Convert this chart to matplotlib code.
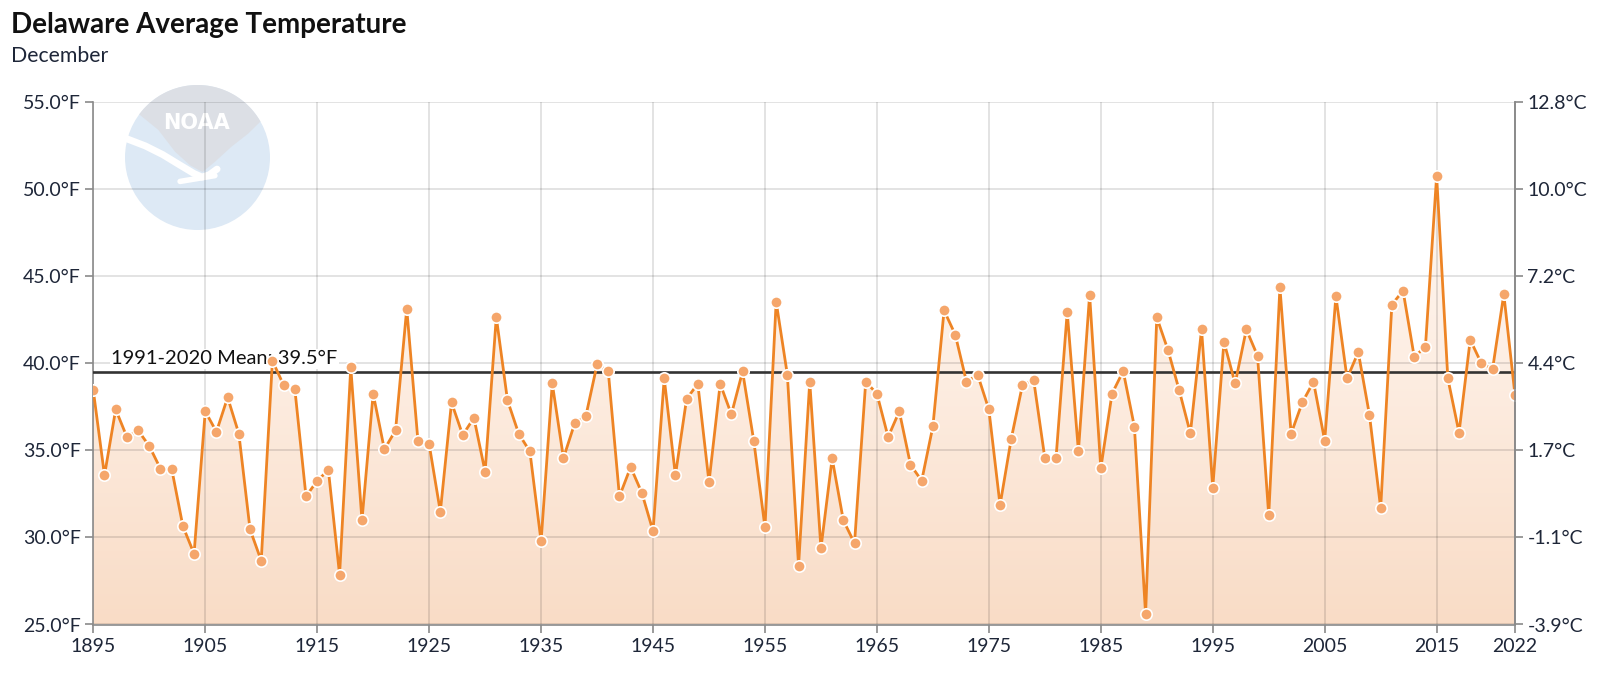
import numpy as np
import matplotlib
matplotlib.use("Agg")
import matplotlib.pyplot as plt
from matplotlib.colors import LinearSegmentedColormap
from matplotlib.patches import Circle, Polygon

years = list(range(1895, 2023))
temps_f = [
    38.43, 33.56, 37.34, 35.76, 36.14, 35.24, 33.94, 33.94, 30.65, 29.06,  # 1895-1904
    37.23, 36.06, 38.03, 35.95, 30.46, 28.66, 40.13, 38.74, 38.53, 32.35,  # 1905-1914
    33.25, 33.86, 27.86, 39.75, 30.98, 38.24, 35.05, 36.14, 43.12, 35.54,  # 1915-1924
    35.35, 31.47, 37.74, 35.87, 36.86, 33.77, 42.64, 37.86, 35.95, 34.93,  # 1925-1934
    29.77, 38.83, 34.55, 36.54, 36.96, 39.92, 39.54, 32.35, 34.03, 32.56,  # 1935-1944
    30.36, 39.12, 33.56, 37.95, 38.81, 33.17, 38.81, 37.06, 39.52, 35.54,  # 1945-1954
    30.57, 43.52, 39.33, 28.37, 38.93, 29.37, 34.53, 30.98, 29.66, 38.93,  # 1955-1964
    38.24, 35.76, 37.23, 34.17, 33.25, 36.37, 43.02, 41.63, 38.93, 39.33,  # 1965-1974
    37.34, 31.85, 35.66, 38.74, 39.04, 34.55, 34.55, 42.93, 34.95, 43.92,  # 1975-1984
    33.96, 38.24, 39.54, 36.35, 25.59, 42.62, 40.75, 38.45, 35.97, 41.93,  # 1985-1994
    32.85, 41.22, 38.83, 41.93, 40.42, 31.26, 44.34, 35.95, 37.74, 38.93,  # 1995-2004
    35.55, 43.84, 39.12, 40.63, 37.02, 31.67, 43.36, 44.15, 40.35, 40.94,  # 2005-2014
    50.75, 39.12, 36.01, 41.34, 39.98, 39.67, 43.95, 38.16,                # 2015-2022
]
mean_value = 39.5
mean_label = "1991-2020 Mean: 39.5°F"
title = "Delaware Average Temperature"
subtitle = "December"
yticks_f = [25, 30, 35, 40, 45, 50, 55]
xticks = [1895, 1905, 1915, 1925, 1935, 1945, 1955, 1965, 1975, 1985, 1995, 2005, 2015, 2022]

plt.rcParams['font.family'] = ['Lato', 'DejaVu Sans']
W, H = 1600, 693
fig = plt.figure(figsize=(W / 100, H / 100), dpi=100)
fig.patch.set_facecolor('white')

# axes placement (pixels)
L, R, T, B = 93.3, 1515, 101.7, 624.5
ax = fig.add_axes([L / W, 1 - B / H, (R - L) / W, (B - T) / H])
ax.set_zorder(2)
ax.patch.set_visible(False)

# NOAA watermark logo
cx, cy, rad = 197.5, 157.5, 72.5
lax = fig.add_axes([(cx - rad) / W, 1 - (cy + rad) / H, 2 * rad / W, 2 * rad / H])
lax.set_zorder(0)
lax.set_xlim(-1, 1); lax.set_ylim(-1, 1); lax.axis('off')
lax.add_patch(Circle((0, 0), 1, color='#dde9f5', lw=0))
ang = np.linspace(np.radians(29.7), np.radians(143.5), 60)
cap = [(np.cos(a), np.sin(a)) for a in ang]
left_side = [(-0.54, 0.38), (-0.31, 0.08), (-0.10, -0.11), (0.07, -0.20)]
right_side = [(0.24, -0.06), (0.47, 0.15), (0.70, 0.33)]
lax.add_patch(Polygon(cap + left_side + right_side, closed=True, color='#dcdfe5', lw=0))
wing = np.array([(-0.98, 0.26), (-0.72, 0.16), (-0.48, 0.04), (-0.25, -0.10),
                 (-0.05, -0.22), (0.06, -0.27), (0.16, -0.24), (0.27, -0.16)])
lax.plot(wing[:, 0], wing[:, 1], color='white', lw=5, solid_capstyle='round')
lax.plot([-0.24, 0.24], [-0.33, -0.25], color='white', lw=4, solid_capstyle='round')
lax.text(-0.02, 0.47, 'NOAA', color='white', fontsize=15, fontweight='heavy',
         ha='center', va='center', family=['DejaVu Sans'])

# gradient fill under the line
ax.set_xlim(1895, 2022)
ax.set_ylim(25, 55)
poly = ax.fill_between(years, temps_f, 25, color='none', lw=0)
cmap = LinearSegmentedColormap.from_list('peach', ['#f9dcc6', '#fdeee3', '#fff9f4'])
grad = np.linspace(0, 1, 256).reshape(-1, 1)
im = ax.imshow(grad, extent=[1895, 2022, 25, 55], origin='lower', aspect='auto',
               cmap=cmap, zorder=1, interpolation='bicubic')
im.set_clip_path(poly.get_paths()[0], transform=ax.transData)
ax.set_xlim(1895, 2022)
ax.set_ylim(25, 55)

# grid
ax.set_axisbelow('line')
ax.grid(True, color='#000000', alpha=0.13, lw=1.2)

# mean line + label
ax.axhline(mean_value, color='#333333', lw=1.9, zorder=2.6)
ax.text(1896.6, mean_value + 0.25, mean_label, fontsize=14.5, color='#111111',
        ha='left', va='bottom', zorder=2.7,
        bbox=dict(facecolor='white', edgecolor='none', pad=1.0))

# data line
ax.plot(years, temps_f, color='#ee8424', lw=2.0, zorder=3,
        marker='o', markersize=8.2, markerfacecolor='#f5a66b',
        markeredgecolor='white', markeredgewidth=1.2)

# axes styling
ax.spines['top'].set_visible(False)
for s in ['left', 'bottom', 'right']:
    ax.spines[s].set_color('#8a8a8a')
    ax.spines[s].set_linewidth(1.2)
ax.set_yticks(yticks_f)
ax.set_yticklabels([f"{v:.1f}°F" for v in yticks_f])
ax.set_xticks(xticks)
ax.set_xticklabels([str(x) for x in xticks])
ax.tick_params(axis='both', direction='out', length=6, width=1.2, color='#8a8a8a',
               labelsize=14, labelcolor='#1e2638')
ax.tick_params(axis='y', pad=3)
ax.tick_params(axis='x', pad=4)

ax2 = ax.twinx()
ax2.set_ylim(25, 55)
ax2.set_yticks(yticks_f)
ax2.set_yticklabels([f"{(v - 32) * 5 / 9:.1f}°C" for v in yticks_f])
ax2.tick_params(axis='y', direction='out', length=6, width=1.2, color='#8a8a8a',
                labelsize=14, labelcolor='#1e2638', pad=3)
for s in ['top', 'left', 'bottom']:
    ax2.spines[s].set_visible(False)
ax2.spines['right'].set_color('#8a8a8a')
ax2.spines['right'].set_linewidth(1.2)
ax2.patch.set_visible(False)

# titles
fig.text(11 / W, 1 - 33 / H, title, fontsize=20, fontweight='bold', color='#111111',
         ha='left', va='baseline')
fig.text(11 / W, 1 - 62 / H, subtitle, fontsize=15.3, color='#1e2638',
         ha='left', va='baseline')

fig.savefig('out.png', dpi=100)
